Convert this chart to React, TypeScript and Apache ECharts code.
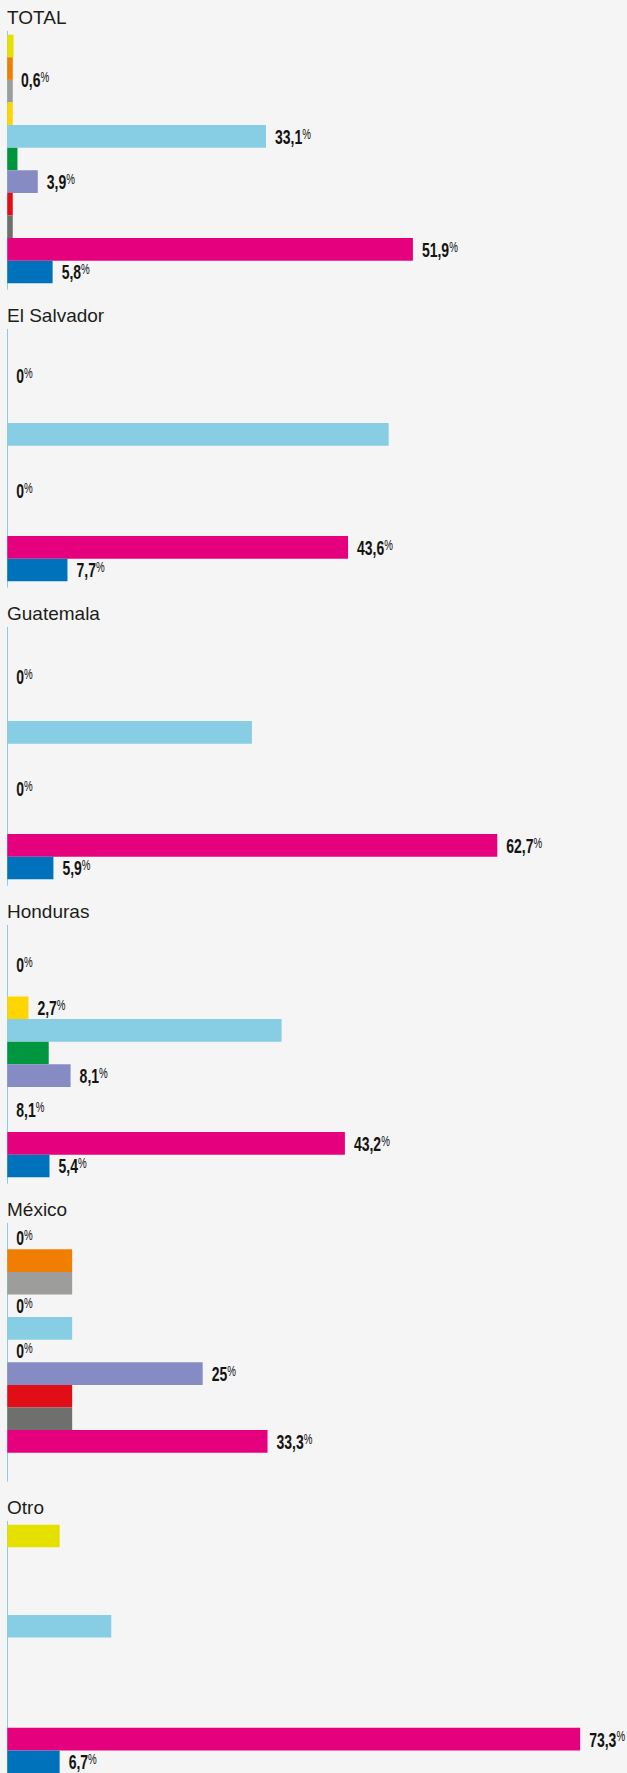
import React, { useEffect, useRef } from "react";
import * as echarts from "echarts";

// ---- data ----
const panelTitles = ["TOTAL", "El Salvador", "Guatemala", "Honduras", "México", "Otro"];

const categories = [
  "amarillo", "naranja", "gris", "dorado", "celeste", "verde",
  "lila", "rojo", "gris oscuro", "magenta", "azul",
];

// values in % per category (null = no bar)
const totalValues = [0.8, 0.7, 0.7, 0.7, 33.1, 1.3, 3.9, 0.7, 0.7, 51.9, 5.8];
const elSalvadorValues = [null, null, null, null, 48.8, null, null, null, null, 43.6, 7.7];
const guatemalaValues = [null, null, null, null, 31.3, null, null, null, null, 62.7, 5.9];
const hondurasValues = [null, null, null, 2.7, 35.1, 5.3, 8.1, null, null, 43.2, 5.4];
const mexicoValues = [null, 8.3, 8.3, null, 8.3, null, 25, 8.3, 8.3, 33.3, null];
const otroValues = [6.7, null, null, null, 13.3, null, null, null, null, 73.3, 6.7];

// which bars carry a value label
const totalLabeled = [4, 6, 9, 10];
const elSalvadorLabeled = [9, 10];
const guatemalaLabeled = [9, 10];
const hondurasLabeled = [3, 6, 9, 10];
const mexicoLabeled = [6, 9];
const otroLabeled = [9, 10];

// free labels: [x value, row position (rows from top), shown value]
const totalFree = [[0.6, 2.0, 0.6]];
const elSalvadorFree = [[0, 1.9, 0], [0, 7.0, 0]];
const guatemalaFree = [[0, 2.05, 0], [0, 7.0, 0]];
const hondurasFree = [[0, 1.6, 0], [0, 8.0, 8.1]];
const mexicoFree = [[0, 0.5, 0], [0, 3.5, 0], [0, 5.5, 0]];
const otroFree: number[][] = [];

const panelValues = [totalValues, elSalvadorValues, guatemalaValues, hondurasValues, mexicoValues, otroValues];
const panelLabeled = [totalLabeled, elSalvadorLabeled, guatemalaLabeled, hondurasLabeled, mexicoLabeled, otroLabeled];
const panelFree = [totalFree, elSalvadorFree, guatemalaFree, hondurasFree, mexicoFree, otroFree];

// ---- style ----
const colors = [
  "#e6e000", "#f07e00", "#9d9d9c", "#ffd500", "#87cee4", "#009640",
  "#878bc4", "#e10e17", "#6f6f6e", "#e5007e", "#0072bb",
];
const W = 627;
const H = 1773;
const LEFT = 7.3;
const AXIS_TOP0 = 31.3;
const PANEL_STEP = 298;
const AXIS_LEN = 258;
const ROW_OFFSET = 3.4;
const ROW_H = 22.6;
const X_MAX = 78;
const PX_PER_PCT = 7.815;
const LABEL_FONT = "'Liberation Sans', Arial, sans-serif";
const LABEL_SCALE_X = 0.7;
const LABEL_GAP = 9;

const fmt = (v: number) => String(v).replace(".", ",");
const richLabel = {
  v: { fontFamily: LABEL_FONT, fontSize: 20, fontWeight: "bold", fill: "#141412", lineHeight: 20 },
  p: { fontFamily: LABEL_FONT, fontSize: 14, fontWeight: "normal", fill: "#141412", lineHeight: 15, verticalAlign: "top" },
};

function buildOption() {
  const grid: any[] = [];
  const xAxis: any[] = [];
  const yAxis: any[] = [];
  const series: any[] = [];
  const title: any[] = [];
  const n = categories.length;

  panelTitles.forEach((name, i) => {
    const axisTop = AXIS_TOP0 + i * PANEL_STEP;
    const gBars = grid.length;
    grid.push({ left: LEFT, top: axisTop + ROW_OFFSET, width: X_MAX * PX_PER_PCT, height: n * ROW_H });
    const gAxis = grid.length;
    grid.push({ left: LEFT, top: axisTop, width: 10, height: AXIS_LEN });

    const xBars = xAxis.length;
    xAxis.push({ type: "value", gridIndex: gBars, min: 0, max: X_MAX, show: false });
    const xAx = xAxis.length;
    xAxis.push({ type: "value", gridIndex: gAxis, min: 0, max: 1, show: false });

    const yCat = yAxis.length;
    yAxis.push({ type: "category", gridIndex: gBars, data: categories, inverse: true, show: false });
    const yVal = yAxis.length;
    yAxis.push({ type: "value", gridIndex: gBars, min: 0, max: n, inverse: true, show: false });
    const yAx = yAxis.length;
    yAxis.push({
      type: "value", gridIndex: gAxis, min: 0, max: 1,
      axisLine: { show: true, lineStyle: { color: "#8ecbe1", width: 1 } },
      axisTick: { show: false }, axisLabel: { show: false }, splitLine: { show: false },
    });

    title.push({
      text: name, left: 7, top: axisTop - 23, padding: 0,
      textStyle: { fontFamily: "'Liberation Sans', Arial, sans-serif", fontSize: 19, fontWeight: "normal", color: "#1d1d1b" },
    });

    const vals = panelValues[i];
    const labeled = panelLabeled[i];
    series.push({
      type: "bar",
      xAxisIndex: xBars,
      yAxisIndex: yCat,
      barCategoryGap: "0%",
      data: vals.map((v, k) => ({ value: v, itemStyle: { color: colors[k] } })),
    });

    // empty series keeping the axis-line grid alive
    series.push({ type: "line", xAxisIndex: xAx, yAxisIndex: yAx, data: [], silent: true });

    // value labels: bar-end labels + free labels
    const labelData: number[][] = [];
    labeled.forEach((k) => {
      const v = vals[k];
      if (v != null) labelData.push([v, k + 0.5, v]);
    });
    panelFree[i].forEach((f) => labelData.push([f[0], f[1], f[2]]));

    series.push({
      type: "custom",
      coordinateSystem: "cartesian2d",
      xAxisIndex: xBars,
      yAxisIndex: yVal,
      clip: false,
      silent: true,
      data: labelData,
      renderItem: (_p: any, api: any) => {
        const pt = api.coord([api.value(0), api.value(1)]);
        const shown = api.value(2);
        return {
          type: "text",
          x: pt[0] + LABEL_GAP,
          y: pt[1] + 0.5,
          scaleX: LABEL_SCALE_X,
          style: {
            text: `{v|${fmt(shown)}}{p|%}`,
            rich: richLabel,
            align: "left",
            verticalAlign: "middle",
            fill: "#141412",
          },
        };
      },
    });
  });

  return {
    animation: false,
    backgroundColor: "#f5f5f5",
    title,
    grid,
    xAxis,
    yAxis,
    series,
  };
}

export default function App() {
  const ref = useRef<HTMLDivElement>(null);
  useEffect(() => {
    if (!ref.current) return;
    const chart = echarts.init(ref.current, null, { renderer: "svg", width: W, height: H });
    chart.setOption(buildOption() as any);
    return () => chart.dispose();
  }, []);
  return (
    <div
      ref={ref}
      style={{ position: "absolute", left: 0, top: 0, width: W, height: H, background: "#f5f5f5" }}
    />
  );
}
